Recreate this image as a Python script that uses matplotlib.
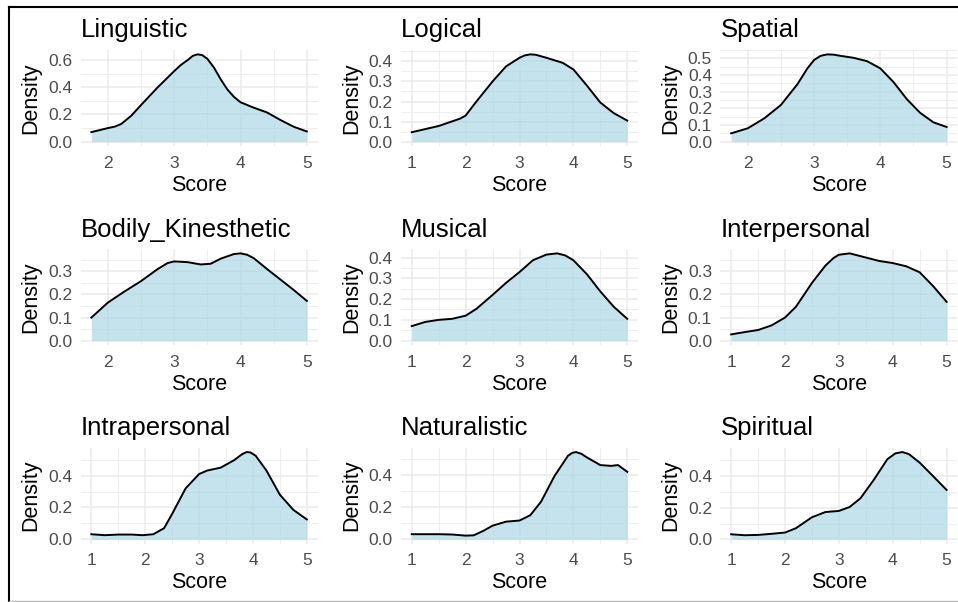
import matplotlib
matplotlib.use("Agg")
import matplotlib.pyplot as plt
from matplotlib.lines import Line2D
from matplotlib.ticker import MultipleLocator, FormatStrFormatter

plt.rcParams['font.family'] = ['Liberation Sans', 'DejaVu Sans']

# ---- data (density curves) ----
titles = ["Linguistic", "Logical", "Spatial",
          "Bodily_Kinesthetic", "Musical", "Interpersonal",
          "Intrapersonal", "Naturalistic", "Spiritual"]

ling_x = [1.75, 2.0, 2.1, 2.2, 2.35, 2.5, 2.75, 3.0, 3.1, 3.2, 3.28, 3.35, 3.42, 3.5, 3.6, 3.7, 3.8, 3.9, 4.0, 4.2, 4.4, 4.6, 4.8, 5.0]
ling_y = [0.07, 0.10, 0.11, 0.13, 0.19, 0.27, 0.40, 0.52, 0.565, 0.60, 0.632, 0.643, 0.638, 0.61, 0.545, 0.46, 0.385, 0.33, 0.29, 0.25, 0.215, 0.16, 0.11, 0.075]

logi_x = [1.0, 1.5, 1.9, 2.0, 2.2, 2.5, 2.75, 3.0, 3.1, 3.2, 3.3, 3.5, 3.8, 4.0, 4.25, 4.5, 4.75, 5.0]
logi_y = [0.047, 0.078, 0.115, 0.13, 0.20, 0.30, 0.375, 0.418, 0.43, 0.435, 0.433, 0.418, 0.393, 0.36, 0.28, 0.195, 0.142, 0.105]

spat_x = [1.75, 2.0, 2.25, 2.5, 2.75, 2.9, 3.0, 3.1, 3.2, 3.3, 3.4, 3.6, 3.8, 4.0, 4.2, 4.4, 4.6, 4.8, 5.0]
spat_y = [0.05, 0.08, 0.14, 0.22, 0.345, 0.44, 0.49, 0.515, 0.524, 0.522, 0.515, 0.503, 0.483, 0.44, 0.357, 0.255, 0.173, 0.116, 0.088]

bodi_x = [1.75, 2.0, 2.25, 2.5, 2.75, 2.9, 3.0, 3.2, 3.4, 3.55, 3.7, 3.9, 4.0, 4.1, 4.2, 4.4, 4.6, 4.8, 5.0]
bodi_y = [0.10, 0.165, 0.213, 0.258, 0.31, 0.336, 0.343, 0.34, 0.33, 0.333, 0.355, 0.375, 0.378, 0.372, 0.357, 0.31, 0.265, 0.22, 0.172]

musi_x = [1.0, 1.25, 1.5, 1.75, 2.0, 2.2, 2.5, 2.75, 3.0, 3.25, 3.5, 3.7, 3.85, 4.0, 4.25, 4.5, 4.75, 5.0]
musi_y = [0.07, 0.09, 0.10, 0.105, 0.12, 0.153, 0.22, 0.278, 0.33, 0.387, 0.414, 0.42, 0.41, 0.387, 0.32, 0.237, 0.163, 0.105]

inte_x = [1.0, 1.25, 1.5, 1.75, 2.0, 2.2, 2.5, 2.75, 2.9, 3.0, 3.2, 3.5, 3.75, 4.0, 4.25, 4.5, 4.75, 5.0]
inte_y = [0.027, 0.037, 0.046, 0.066, 0.10, 0.146, 0.25, 0.325, 0.358, 0.372, 0.378, 0.36, 0.345, 0.336, 0.322, 0.296, 0.236, 0.168]

intr_x = [1.0, 1.25, 1.5, 1.75, 1.95, 2.15, 2.35, 2.5, 2.75, 3.0, 3.15, 3.4, 3.65, 3.8, 3.88, 3.95, 4.05, 4.25, 4.5, 4.75, 5.0]
intr_y = [0.032, 0.026, 0.03, 0.03, 0.026, 0.032, 0.07, 0.16, 0.32, 0.41, 0.432, 0.45, 0.497, 0.535, 0.548, 0.546, 0.525, 0.432, 0.28, 0.185, 0.125]

natu_x = [1.0, 1.5, 1.75, 2.0, 2.15, 2.33, 2.5, 2.75, 3.0, 3.2, 3.4, 3.65, 3.9, 3.98, 4.05, 4.15, 4.25, 4.5, 4.7, 4.83, 5.0]
natu_y = [0.032, 0.032, 0.03, 0.023, 0.025, 0.053, 0.085, 0.11, 0.117, 0.15, 0.234, 0.394, 0.52, 0.538, 0.543, 0.532, 0.51, 0.462, 0.457, 0.462, 0.42]

spir_x = [1.0, 1.25, 1.5, 1.75, 2.0, 2.2, 2.5, 2.75, 3.0, 3.2, 3.4, 3.65, 3.9, 4.05, 4.18, 4.3, 4.5, 4.75, 5.0]
spir_y = [0.032, 0.026, 0.028, 0.035, 0.043, 0.07, 0.14, 0.173, 0.18, 0.205, 0.26, 0.378, 0.508, 0.545, 0.553, 0.54, 0.486, 0.40, 0.313]

xs = [ling_x, logi_x, spat_x, bodi_x, musi_x, inte_x, intr_x, natu_x, spir_x]
ys = [ling_y, logi_y, spat_y, bodi_y, musi_y, inte_y, intr_y, natu_y, spir_y]
y_steps = [0.2, 0.1, 0.1, 0.1, 0.1, 0.1, 0.2, 0.2, 0.2]

# ---- layout ----
W, H = 958, 602
fig = plt.figure(figsize=(W / 100, H / 100), dpi=100)
col_left = [80.6, 401.0, 720.4]
panel_w = 237.0
row_top = [50.0, 249.0, 447.7]
panel_h = 96.0

grid_c = "#EBEBEB"
for i, title in enumerate(titles):
    r, c = divmod(i, 3)
    ax = fig.add_axes([col_left[c] / W, 1 - (row_top[r] + panel_h) / H,
                       panel_w / W, panel_h / H])
    x, y = xs[i], ys[i]
    ax.fill_between(x, 0, y, color="#ADD8E6", alpha=0.7, lw=0, zorder=2)
    ax.plot(x, y, color="black", lw=1.4, zorder=3, solid_joinstyle="round")
    xmin, xmax = min(x), max(x)
    xr = xmax - xmin
    ax.set_xlim(xmin - 0.05 * xr, xmax + 0.05 * xr)
    ymax = max(y)
    ax.set_ylim(-0.05 * ymax, 1.05 * ymax)
    ax.xaxis.set_major_locator(MultipleLocator(1))
    ax.xaxis.set_minor_locator(MultipleLocator(0.5))
    ax.yaxis.set_major_locator(MultipleLocator(y_steps[i]))
    ax.yaxis.set_minor_locator(MultipleLocator(y_steps[i] / 2))
    ax.yaxis.set_major_formatter(FormatStrFormatter('%.1f'))
    ax.set_axisbelow(True)
    ax.grid(which="major", color=grid_c, lw=1.1, zorder=0)
    ax.grid(which="minor", color=grid_c, lw=0.6, zorder=0)
    for s in ax.spines.values():
        s.set_visible(False)
    ax.tick_params(which="both", length=0)
    ax.tick_params(axis="x", pad=7, labelsize=12.5, labelcolor="#4D4D4D")
    ax.tick_params(axis="y", pad=6, labelsize=12.5, labelcolor="#4D4D4D")
    ax.set_xlabel("Score", fontsize=15.5, color="black")
    ax.set_ylabel("Density", fontsize=15.5, color="black")
    ax.xaxis.set_label_coords(0.5, -0.30)
    ax.yaxis.set_label_coords(-0.165, 0.5)
    ax.set_title(title, loc="left", fontsize=18.5, pad=9.0, color="black")

# frame lines around figure
fig.add_artist(Line2D([8.5 / W, 1.0], [1 - 7 / H, 1 - 7 / H], color="black", lw=1.5,
                      transform=fig.transFigure))
fig.add_artist(Line2D([8.5 / W, 8.5 / W], [1 - 7 / H, 1 - 600.5 / H], color="black", lw=1.5,
                      transform=fig.transFigure))
fig.add_artist(Line2D([8.5 / W, 1.0], [1 - 600.5 / H, 1 - 600.5 / H], color="#BBBBBB", lw=1.0,
                      transform=fig.transFigure))

fig.savefig("out.png", dpi=100)
